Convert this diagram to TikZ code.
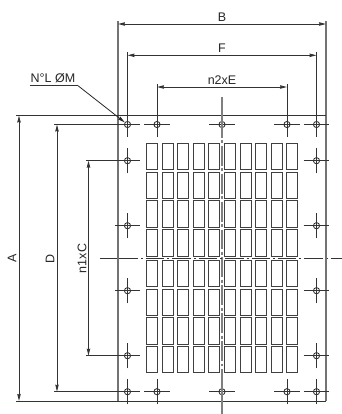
\documentclass[tikz,border=0pt]{standalone}
\usepackage{fontspec}
\setmainfont{Liberation Sans}
\usetikzlibrary{arrows.meta}
\tikzset{
  lin/.style={draw=black!80,line width=0.85pt},
  plate/.style={draw=black!55,line width=1.3pt},
  slot/.style={draw=black!75,line width=0.95pt},
  dim/.style={draw=black!80,line width=0.85pt,{Stealth[length=7pt,width=3.4pt,inset=0.5pt]}-{Stealth[length=7pt,width=3.4pt,inset=0.5pt]}},
  lead/.style={draw=black!85,line width=0.8pt,-{Stealth[length=7pt,width=3.4pt,inset=0.5pt]}},
  axish/.style={draw=black!80,line width=0.85pt},
  axisv/.style={draw=black!50,line width=1.4pt},
  hole/.style={circle,draw=black!85,line width=0.8pt,inner sep=0pt,minimum size=6.2pt},
  lab/.style={inner sep=0pt,font=\fontsize{12.5bp}{14bp}\selectfont,text=black!85}
}
\begin{document}
\begin{tikzpicture}[x=1bp,y=-1bp]
\useasboundingbox (0,0) rectangle (342,414);
% slots
\foreach \i in {0,...,9}{
  \foreach \t in {143.5,172.2,200.9,229.6,260.4,289,317.7,346.4}{
    \draw[slot] ({146.7+15.55*\i},\t) rectangle ++(11,26.4);
  }
}
% centre lines
\coordinate (vt) at (222,97);
\coordinate (vb) at (222,414);
\coordinate (hl) at (100,258.5);
\coordinate (hm) at (138,258.5);
\coordinate (hr) at (342,258.5);
\draw[axisv,dash pattern=on 20pt off 2.5pt on 3pt off 2.5pt,dash phase=7pt] (vt) -- (vb);
\draw[axish] (hl) -- (hm);
\draw[axish,dash pattern=on 18.5pt off 3pt on 2pt off 3pt,dash phase=18.5pt] (hm) -- (hr);
% plate
\coordinate (TL) at (118,115.5);
\coordinate (TR) at (326,115.5);
\coordinate (BL) at (118,401);
\coordinate (BR) at (326,401);
\coordinate (btl) at (118,21);
\coordinate (btr) at (326,21);
\draw[plate] (btl) -- (BL);
\draw[plate] (btr) -- (BR);
\coordinate (tl0) at (16,115.5);
\coordinate (bl0) at (16,401);
\draw[lin] (tl0) -- (TR);
\draw[lin] (bl0) -- (BR);
% holes
\foreach \n/\x/\y in {
  a/127.5/124.5, b/157/124.5, c/222/124.5, d/287/124.5, e/316.5/124.5,
  f/127.5/160.7, g/316.5/160.7,
  h/127.5/225.7, i/316.5/225.7,
  j/127.5/290.7, k/316.5/290.7,
  l/127.5/355.7, m/316.5/355.7,
  n/127.5/391.7, o/157/391.7, p/222/391.7, q/287/391.7, r/316.5/391.7}{
  \node[hole] (\n) at (\x,\y) {};
}
% crosshairs
\foreach \n in {a,b,c,d,e,f,g,h,i,j,k,l,m,n,o,p,q,r}{
  \draw[lin] ([xshift=-13pt]\n.center) -- ([xshift=13pt]\n.center);
}
\foreach \n in {a,b,d,e,f,g,h,i,j,k,l,m,n,o,q,r}{
  \draw[lin] ([yshift=-12.7pt]\n.center) -- ([yshift=12.7pt]\n.center);
}
\draw[axisv] ([yshift=-11.5pt]c.center) -- ([yshift=16pt]c.center);
\draw[axisv] ([yshift=-16.5pt]p.center) -- ([yshift=13.5pt]p.center);
% extension lines
\coordinate (xa) at (127.5,52);
\coordinate (xe) at (316.5,52);
\coordinate (xb) at (157,84);
\coordinate (xd) at (287,84);
\draw[lin] (xa) -- (a.center);
\draw[lin] (xe) -- (e.center);
\draw[lin] (xb) -- (b.center);
\draw[lin] (xd) -- (d.center);
\coordinate (ya) at (54,124.5);
\coordinate (yn) at (54,391.7);
\coordinate (yf) at (86,160.7);
\coordinate (yl) at (86,355.7);
\draw[lin] (ya) -- (a.center);
\draw[lin] (yn) -- (n.center);
\draw[lin] (yf) -- (f.center);
\draw[lin] (yl) -- (l.center);
% dimensions
\coordinate (B1) at (118,24); \coordinate (B2) at (326,24);
\coordinate (F1) at (127.5,55.3); \coordinate (F2) at (316.5,55.3);
\coordinate (E1) at (157,87); \coordinate (E2) at (287,87);
\coordinate (A1) at (19,115.5); \coordinate (A2) at (19,401);
\coordinate (D1) at (57,124.5); \coordinate (D2) at (57,391.7);
\coordinate (C1) at (88.5,160.7); \coordinate (C2) at (88.5,355.7);
\draw[dim] (B1) -- (B2);
\draw[dim] (F1) -- (F2);
\draw[dim] (E1) -- (E2);
\draw[dim] (A1) -- (A2);
\draw[dim] (D1) -- (D2);
\draw[dim] (C1) -- (C2);
% labels
\node[lab] (tB) at (222,17) {B};
\node[lab] (tF) at (222,48.5) {F};
\node[lab] (tE) at (222,80) {n2xE};
\node[lab,rotate=90] (tA) at (12,258.5) {A};
\node[lab,rotate=90] (tD) at (50,258.5) {D};
\node[lab,rotate=90] (tC) at (82,258.5) {n1xC};
\node[lab] (tN) at (53,78.3) {N°L ØM};
% leader
\coordinate (u1) at (30,85.7);
\coordinate (u2) at (78,85.7);
\draw[lin] (u1) -- (u2);
\draw[lead] (u2) -- (a);
\end{tikzpicture}
\end{document}
